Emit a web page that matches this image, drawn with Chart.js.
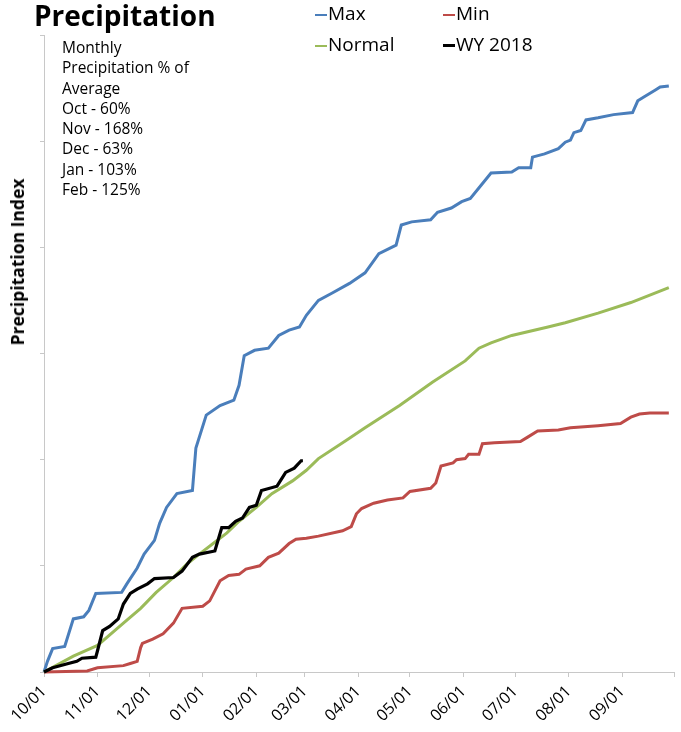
<!DOCTYPE html>
<html>
<head>
<meta charset="utf-8">
<script src="https://cdn.jsdelivr.net/npm/chart.js@4.4.1/dist/chart.umd.min.js"></script>
<style>
  body { margin: 0; background: #fff; font-family: "Open Sans", Lato, sans-serif; }
  #wrap { position: relative; width: 681px; height: 732px; }
  #titulo { position: absolute; left: 34px; top: -4px; font-size: 28px; font-weight: bold; color: #000; }
  #nota { position: absolute; left: 62px; top: 37px; font-size: 15.5px; line-height: 20.3px; color: #000; }
  #ejeY { position: absolute; left: 17px; top: 262px; transform: translate(-50%, -50%) rotate(-90deg);
          white-space: nowrap; font-size: 17.5px; font-weight: bold; color: #000; }
  .ley { position: absolute; font-size: 19px; color: #000; white-space: nowrap; line-height: 24px; }
  .ley span { display: inline-block; width: 12px; height: 2px; vertical-align: middle; margin-right: 1px; }
</style>
</head>
<body>
<div id="wrap">
  <canvas id="grafico"></canvas>
  <div id="titulo">Precipitation</div>
  <div id="nota">Monthly<br>Precipitation % of<br>Average<br>Oct - 60%<br>Nov - 168%<br>Dec - 63%<br>Jan - 103%<br>Feb - 125%</div>
  <div id="ejeY">Precipitation Index</div>
  <div class="ley" style="left:315px; top:1px;"><span style="background:#4a7ebb"></span>Max</div>
  <div class="ley" style="left:443px; top:1px;"><span style="background:#be4b48"></span>Min</div>
  <div class="ley" style="left:315px; top:32px;"><span style="background:#9bbb59"></span>Normal</div>
  <div class="ley" style="left:443px; top:32px;"><span style="background:#000; height:3px"></span>WY 2018</div>
</div>
<script>
// --- DATOS (dia del año hidrologico desde 10/01, indice de precipitacion) ---
const diasMes = [0, 31, 61, 92, 123, 151, 182, 212, 243, 273, 304, 335, 365];
const etiquetasMes = ['10/01', '11/01', '12/01', '01/01', '02/01', '03/01', '04/01', '05/01', '06/01', '07/01', '08/01', '09/01', ''];

const maxDias = [0, 2, 5, 12, 17, 23, 26, 30, 45, 48, 54, 58, 64, 67, 71, 77, 86, 88, 94, 102, 110, 113, 116, 122, 130, 136, 142, 148, 152, 159, 167, 177, 186, 194, 204, 207, 213, 224, 228, 236, 242, 247, 253, 259, 271, 275, 282, 283, 290, 298, 302, 305, 307, 311, 314, 321, 330, 341, 344, 348, 354, 357, 362];
const maxValores = [0, 1.0, 2.2, 2.4, 5.0, 5.2, 5.8, 7.4, 7.5, 8.3, 9.8, 11.1, 12.4, 14.0, 15.5, 16.8, 17.1, 21.1, 24.2, 25.1, 25.6, 27.0, 29.8, 30.3, 30.5, 31.7, 32.2, 32.5, 33.6, 35.0, 35.7, 36.6, 37.6, 39.4, 40.2, 42.1, 42.4, 42.6, 43.3, 43.7, 44.3, 44.6, 45.8, 47.0, 47.1, 47.5, 47.5, 48.5, 48.8, 49.3, 49.9, 50.1, 50.8, 51.0, 52.0, 52.2, 52.5, 52.7, 53.8, 54.2, 54.8, 55.1, 55.2];

const minDias = [0, 25, 31, 46, 50, 54, 56, 57, 63, 69, 75, 80, 92, 96, 102, 107, 113, 117, 125, 130, 136, 142, 146, 152, 159, 173, 178, 181, 184, 191, 199, 208, 212, 224, 227, 230, 237, 239, 244, 246, 252, 254, 261, 276, 280, 286, 298, 305, 321, 334, 340, 345, 351, 362];
const minValores = [0, 0.1, 0.4, 0.6, 0.8, 1.0, 2.3, 2.7, 3.1, 3.6, 4.6, 6.0, 6.2, 6.7, 8.6, 9.1, 9.2, 9.7, 10.0, 10.8, 11.2, 12.1, 12.5, 12.6, 12.8, 13.3, 13.7, 14.9, 15.4, 15.9, 16.2, 16.4, 17.0, 17.3, 17.8, 19.4, 19.7, 20.0, 20.1, 20.5, 20.5, 21.5, 21.6, 21.7, 22.1, 22.7, 22.8, 23.0, 23.2, 23.4, 24.0, 24.3, 24.4, 24.4];

const normalDias = [0, 17, 31, 46, 56, 65, 75, 83, 90, 98, 106, 113, 123, 132, 144, 152, 159, 175, 186, 206, 225, 244, 252, 259, 271, 292, 302, 321, 340, 362];
const normalValores = [0, 1.5, 2.5, 4.6, 6.0, 7.5, 8.9, 10.2, 11.1, 12.1, 13.1, 14.2, 15.5, 16.8, 18.0, 19.0, 20.1, 21.8, 23.0, 25.1, 27.3, 29.3, 30.5, 31.0, 31.7, 32.5, 32.9, 33.8, 34.8, 36.2];

const wyDias = [0, 5, 13, 19, 22, 30, 31, 34, 38, 43, 46, 50, 54, 60, 64, 75, 80, 86, 90, 99, 103, 107, 111, 115, 119, 123, 126, 135, 140, 145, 149, 150];
const wyValores = [0, 0.4, 0.75, 1.0, 1.3, 1.4, 2.0, 3.9, 4.3, 5.0, 6.4, 7.4, 7.8, 8.3, 8.8, 8.9, 9.5, 10.8, 11.1, 11.4, 13.6, 13.6, 14.2, 14.5, 15.5, 15.7, 17.1, 17.5, 18.8, 19.2, 19.9, 19.9];

function puntos(dias, valores) {
    return dias.map((d, i) => ({ x: d, y: valores[i] }));
}

function serie(nombre, dias, valores, color, ancho, orden) {
    return {
        label: nombre,
        data: puntos(dias, valores),
        borderColor: color,
        backgroundColor: color,
        borderWidth: ancho,
        pointRadius: 0,
        tension: 0,
        clip: false,
        order: orden
    };
}

const gris = '#c8c8c8';

new Chart(document.getElementById('grafico'), {
    type: 'line',
    data: {
        datasets: [
            serie('Max', maxDias, maxValores, '#4a7ebb', 3, 3),
            serie('Min', minDias, minValores, '#be4b48', 3, 2),
            serie('Normal', normalDias, normalValores, '#9bbb59', 3, 1),
            serie('WY 2018', wyDias, wyValores, '#000000', 3.2, 0)
        ]
    },
    options: {
        responsive: true,
        maintainAspectRatio: false,
        animation: false,
        layout: { padding: { left: 0, right: 7, top: 35, bottom: 0 } },
        plugins: { legend: { display: false }, tooltip: { enabled: false } },
        scales: {
            x: {
                type: 'linear',
                min: 0,
                max: 365,
                afterBuildTicks: (eje) => { eje.ticks = diasMes.map(v => ({ value: v })); },
                afterFit: (eje) => { eje.height = 60; eje.paddingLeft = 0; eje.paddingRight = 0; },
                border: { color: gris, width: 1 },
                grid: { drawOnChartArea: false, drawTicks: true, tickLength: 5, color: gris },
                ticks: {
                    autoSkip: false,
                    minRotation: 45,
                    maxRotation: 45,
                    padding: 5,
                    color: '#000',
                    font: { family: 'Open Sans', size: 16 },
                    callback: (v) => etiquetasMes[diasMes.indexOf(v)] ?? ''
                }
            },
            y: {
                min: 0,
                max: 60,
                afterFit: (eje) => { eje.width = 44; },
                border: { color: gris, width: 1 },
                grid: { drawOnChartArea: false, drawTicks: true, tickLength: 4, color: gris },
                ticks: { stepSize: 10, display: false }
            }
        }
    }
});
</script>
</body>
</html>
